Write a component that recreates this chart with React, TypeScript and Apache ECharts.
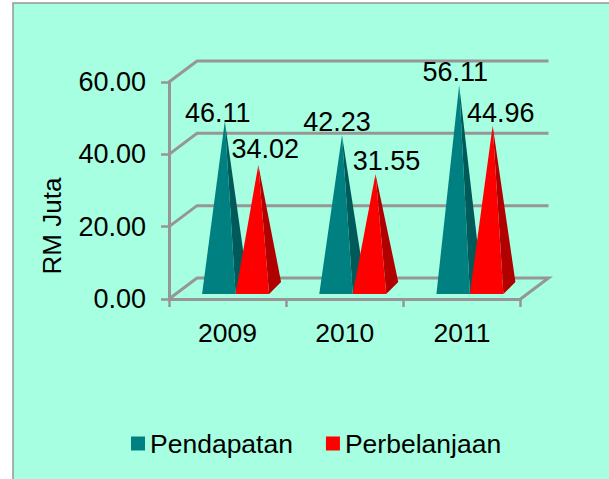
import React, { useEffect, useRef } from "react";
import * as echarts from "echarts";

const categories = ["2009", "2010", "2011"];
const pendapatan = [46.11, 42.23, 56.11];
const perbelanjaan = [34.02, 31.55, 44.96];
const yTicks = [0, 20, 40, 60];

const FONT = "'Liberation Sans', Arial, sans-serif";
const GRAY = "#969696";
const DEPTH_X = 28;
const DEPTH_Y = -21;
const BAR_W = 33.5;
const GROUP_SHIFT = 8;
const pendapatanLabelOffset = [[-7, -8], [-5, -13], [-4, -13]];
const perbelanjaanLabelOffset = [[7, -16], [11, -13], [8, -12]];

function pyramid(seriesIndexSide: number, front: string, side: string, offsets: number[][]) {
  return (params: any, api: any) => {
    const i = params.dataIndex;
    const base = api.coord([i, 0]);
    const top = api.coord([i, api.value(1)]);
    const cx = base[0] + GROUP_SHIFT;
    const xl = seriesIndexSide < 0 ? cx - BAR_W : cx;
    const xr = xl + BAR_W;
    const yf = base[1] - 5;
    const by = yf - 12;
    const apex = [(xl + xr) / 2 + 6, top[1] - 11];
    const off = offsets[i];
    return {
      type: "group",
      children: [
        {
          type: "polygon",
          shape: { points: [[xr, yf], [xr + 12, by], apex] },
          style: { fill: side },
        },
        {
          type: "polygon",
          shape: { points: [[xl, yf], [xr, yf], apex] },
          style: { fill: front },
        },
        {
          type: "text",
          z2: 10,
          style: {
            text: api.value(1).toFixed(2),
            x: apex[0] + off[0],
            y: apex[1] + off[1],
            textAlign: "center",
            textVerticalAlign: "middle",
            font: `27px ${FONT}`,
            fill: "#000",
          },
        },
      ],
    };
  };
}

function wallLine(params: any, api: any) {
  const v = api.value(0);
  const half = api.size([1, 0])[0] / 2;
  const left = api.coord([0, v]);
  const right = api.coord([categories.length - 1, v]);
  const lx = left[0] - half;
  const rx = right[0] + half;
  const points = [
    [lx, left[1]],
    [lx + DEPTH_X, left[1] + DEPTH_Y],
    [rx + DEPTH_X, right[1] + DEPTH_Y],
  ];
  if (v === 0) points.push([rx, right[1]]);
  return {
    type: "polyline",
    shape: { points },
    style: { stroke: GRAY, lineWidth: 3, fill: "none" },
  };
}

export default function App() {
  const ref = useRef<HTMLDivElement>(null);
  useEffect(() => {
    const chart = echarts.init(ref.current!, null, { renderer: "svg" });
    chart.setOption({
      animation: false,
      backgroundColor: "#ffffff",
      textStyle: { fontFamily: FONT },
      graphic: [
        {
          type: "rect",
          z: -10,
          shape: { x: 13, y: 3, width: 610, height: 490 },
          style: { fill: "#A6FFE0", stroke: GRAY, lineWidth: 1.5 },
        },
        {
          type: "text",
          x: 52,
          y: 226,
          rotation: Math.PI / 2,
          style: {
            text: "RM Juta",
            font: `26px ${FONT}`,
            fill: "#000",
            textAlign: "center",
            textVerticalAlign: "middle",
          },
        },
      ],
      grid: { left: 169, right: 88.5, top: 82, bottom: 180, containLabel: false },
      legend: {
        left: 131,
        top: 430,
        padding: 0,
        itemWidth: 14,
        itemHeight: 14,
        itemGap: 33,
        icon: "rect",
        data: ["Pendapatan", "Perbelanjaan"],
        textStyle: { fontSize: 26.5, color: "#000", fontFamily: FONT },
      },
      xAxis: {
        type: "category",
        data: categories,
        axisLine: { show: true, lineStyle: { color: GRAY, width: 3 } },
        axisTick: { show: true, length: 8, alignWithLabel: false, lineStyle: { color: GRAY, width: 2.5 } },
        axisLabel: { fontSize: 26.5, color: "#000", margin: 20, fontFamily: FONT },
      },
      yAxis: {
        type: "value",
        min: 0,
        max: 60,
        interval: 20,
        splitLine: { show: false },
        axisLine: { show: true, lineStyle: { color: GRAY, width: 3 } },
        axisTick: { show: true, length: 8, lineStyle: { color: GRAY, width: 2.5 } },
        axisLabel: {
          fontSize: 27,
          color: "#000",
          margin: 23,
          padding: [3, 0, 0, 0],
          fontFamily: FONT,
          formatter: (v: number) => v.toFixed(2),
        },
      },
      series: [
        {
          type: "custom",
          silent: true,
          coordinateSystem: "cartesian2d",
          renderItem: wallLine,
          encode: { y: 0 },
          data: yTicks.map((v) => [v]),
          z: 1,
        },
        {
          name: "Pendapatan",
          type: "custom",
          coordinateSystem: "cartesian2d",
          renderItem: pyramid(-1, "#008080", "#005A5A", pendapatanLabelOffset),
          itemStyle: { color: "#008080" },
          encode: { x: 0, y: 1 },
          data: pendapatan.map((v, i) => [i, v]),
          z: 2,
        },
        {
          name: "Perbelanjaan",
          type: "custom",
          coordinateSystem: "cartesian2d",
          renderItem: pyramid(1, "#FF0000", "#B00000", perbelanjaanLabelOffset),
          itemStyle: { color: "#FF0000" },
          encode: { x: 0, y: 1 },
          data: perbelanjaan.map((v, i) => [i, v]),
          z: 3,
        },
      ],
    });
    return () => chart.dispose();
  }, []);
  return (
    <div
      ref={ref}
      style={{ position: "absolute", left: 0, top: 0, width: 609, height: 479 }}
    />
  );
}
